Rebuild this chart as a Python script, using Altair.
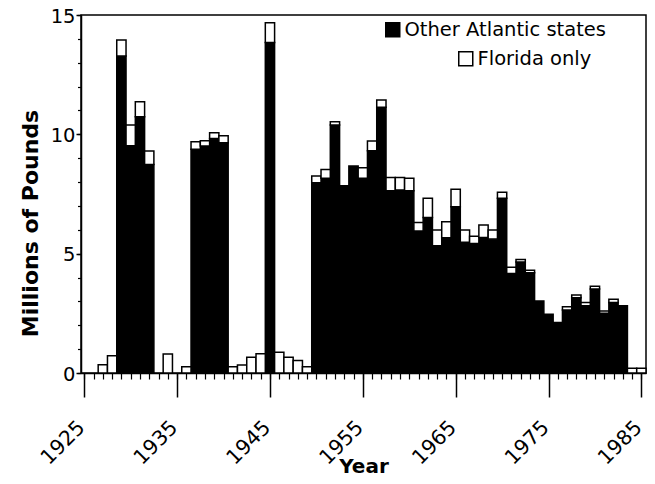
import altair as alt
import pandas as pd

years = list(range(1927, 1986))
other = [0, 0, 13.28, 9.52, 10.74, 8.74, 0, 0, 0, 0,
         9.38, 9.51, 9.83, 9.65, 0, 0, 0, 0, 13.85, 0,
         0, 0, 0, 7.97, 8.16, 10.39, 7.85, 8.67, 8.16, 9.31,
         11.13, 7.64, 7.67, 7.64, 5.95, 6.52, 5.33, 5.67, 6.97, 5.48,
         5.43, 5.68, 5.61, 7.32, 4.17, 4.65, 4.20, 3.02, 2.46, 2.12,
         2.64, 3.15, 2.82, 3.52, 2.50, 2.95, 2.82, 0, 0]
florida = [0.35, 0.72, 0.67, 0.87, 0.63, 0.56, 0, 0.80, 0, 0.26,
           0.31, 0.22, 0.24, 0.29, 0.26, 0.33, 0.66, 0.81, 0.83, 0.87,
           0.66, 0.52, 0.26, 0.28, 0.37, 0.14, 0, 0, 0.44, 0.41,
           0.31, 0.55, 0.52, 0.52, 0.36, 0.80, 0.66, 0.67, 0.73, 0.51,
           0.30, 0.52, 0.38, 0.25, 0.26, 0.11, 0.11, 0, 0, 0,
           0.14, 0.12, 0.13, 0.12, 0.10, 0.14, 0, 0.20, 0.20]
series_names = ["Other Atlantic states", "Florida only"]
major_years = [1925, 1935, 1945, 1955, 1965, 1975, 1985]
minor_years = list(range(1925, 1986))
major_y = [0, 5, 10, 15]
minor_y = list(range(0, 16))

rows_o, rows_f = [], []
for yr, o, f in zip(years, other, florida):
    if o > 0:
        rows_o.append({"x0": yr - 0.5, "x1": yr + 0.5, "lo": 0, "hi": o, "series": series_names[0]})
    if f > 0:
        rows_f.append({"x0": yr - 0.5, "x1": yr + 0.5, "lo": o, "hi": o + f, "series": series_names[1]})
df_o = pd.DataFrame(rows_o)
df_f = pd.DataFrame(rows_f)

FONT = "DejaVu Sans"
xscale = alt.Scale(domain=[1924.65, 1985.5], nice=False, zero=False)
yscale = alt.Scale(domain=[0, 15], nice=False)

legend_common = dict(orient="none", title=None, symbolType="square", symbolSize=196,
                     symbolStrokeColor="black", symbolStrokeWidth=1.5,
                     labelFont=FONT, labelFontSize=19.5, labelColor="black",
                     labelOffset=2, labelLimit=0, padding=0)

other_layer = alt.Chart(df_o).mark_rect(stroke="black", strokeWidth=1.5).encode(
    x=alt.X("x0:Q", scale=xscale,
            axis=alt.Axis(values=major_years, format="d", title="Year", orient="bottom",
                          tickSize=24, tickWidth=1.5, tickColor="black",
                          labelAngle=-45, labelAlign="right", labelBaseline="middle",
                          labelPadding=27, labelOffset=-3,
                          labelFont=FONT, labelFontSize=20.5, labelColor="black",
                          domainColor="black", domainWidth=1.5,
                          titleFont=FONT, titleFontSize=20, titleFontWeight="bold",
                          titleColor="black", titleBaseline="alphabetic", titleY=99,
                          grid=False)),
    x2="x1:Q",
    y=alt.Y("lo:Q", scale=yscale,
            axis=alt.Axis(values=major_y, format="d", title="Millions of Pounds", orient="left",
                          tickSize=5, tickWidth=1.5, tickColor="black",
                          labelPadding=1, labelOffset=1,
                          labelFont=FONT, labelFontSize=19.5, labelColor="black",
                          domainColor="black", domainWidth=1.5,
                          titleFont=FONT, titleFontSize=22, titleFontWeight="bold",
                          titleColor="black", titleAngle=270, titleAlign="center",
                          titleBaseline="alphabetic", titleX=-44, titleY=208,
                          grid=False)),
    y2="hi:Q",
    fill=alt.Fill("series:N", scale=alt.Scale(domain=[series_names[0]], range=["black"]),
                  legend=alt.Legend(legendX=302, legendY=5, **legend_common)),
)

florida_layer = alt.Chart(df_f).mark_rect(stroke="black", strokeWidth=1.5).encode(
    x=alt.X("x0:Q", scale=xscale,
            axis=alt.Axis(values=minor_years, labels=False, title=None, orient="bottom",
                          tickSize=6, tickWidth=1.2, tickColor="black", domain=False,
                          grid=False)),
    x2="x1:Q",
    y=alt.Y("lo:Q", scale=yscale,
            axis=alt.Axis(values=minor_y, labels=False, title=None, orient="left",
                          tickSize=3.5, tickWidth=1.2, tickColor="black", domain=False,
                          grid=False)),
    y2="hi:Q",
    fill=alt.Fill("series:N", scale=alt.Scale(domain=[series_names[1]], range=["white"]),
                  legend=alt.Legend(legendX=375, legendY=34, **legend_common)),
)

chart = alt.layer(other_layer, florida_layer).resolve_scale(
    fill="independent"
).resolve_axis(
    x="independent", y="independent"
).properties(
    width=565, height=358,
    autosize=alt.AutoSizeParams(type="none"),
    padding={"left": 73, "top": 7, "right": 1, "bottom": 103},
    background="white",
).configure_view(stroke="black", strokeWidth=1.5)

chart.save("out.html", embed_options={"renderer": "svg", "actions": False})
